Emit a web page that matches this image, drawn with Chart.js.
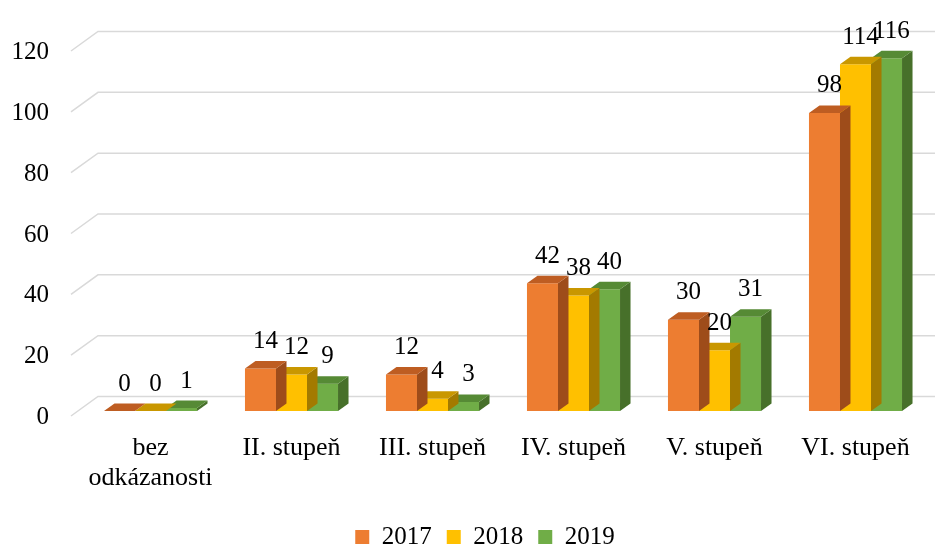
<!DOCTYPE html>
<html>
<head>
<meta charset="utf-8">
<script src="https://cdn.jsdelivr.net/npm/chart.js@4/dist/chart.umd.min.js"></script>
<style>
  html, body { margin: 0; padding: 0; background: #fff; }
  #wrap { width: 935px; height: 546px; }
</style>
</head>
<body>
<div id="wrap"><canvas id="chartStupne"></canvas></div>
<script>
var categories = [["bez", "odkázanosti"], "II. stupeň", "III. stupeň", "IV. stupeň", "V. stupeň", "VI. stupeň"];
var years = ["2017", "2018", "2019"];
var values2017 = [0, 14, 12, 42, 30, 98];
var values2018 = [0, 12, 4, 38, 20, 114];
var values2019 = [1, 9, 3, 40, 31, 116];
var yTicks = [0, 20, 40, 60, 80, 100, 120];

var fronts = ["#ED7D31", "#FFC000", "#70AD47"];
var tops = ["#BE5D22", "#C99700", "#568A35"];
var sides = ["#9E4C1A", "#A37A00", "#47702A"];

var depthX = 10.5, depthY = 7.5;
var serif = "'Liberation Serif', 'Times New Roman', serif";

// faces on top and right side of each bar
var bars3d = {
    id: 'bars3d',
    afterDatasetDraw: function(chart, args){
        var ctx = chart.ctx;
        var i = args.index;
        args.meta.data.forEach(function(bar){
            var l = bar.x - bar.width / 2, r = bar.x + bar.width / 2;
            var t = bar.y, b = bar.base;
            ctx.save();
            ctx.fillStyle = sides[i];
            ctx.beginPath();
            ctx.moveTo(r, t);
            ctx.lineTo(r + depthX, t - depthY);
            ctx.lineTo(r + depthX, b - depthY);
            ctx.lineTo(r, b);
            ctx.closePath();
            ctx.fill();
            ctx.fillStyle = tops[i];
            ctx.beginPath();
            ctx.moveTo(l, t);
            ctx.lineTo(l + depthX, t - depthY);
            ctx.lineTo(r + depthX, t - depthY);
            ctx.lineTo(r, t);
            ctx.closePath();
            ctx.fill();
            ctx.restore();
        });
    }
};

// back wall grid with the little floor diagonal
var grid3d = {
    id: 'grid3d',
    beforeDatasetsDraw: function(chart){
        var ctx = chart.ctx, y = chart.scales.y, left = chart.chartArea.left;
        ctx.save();
        ctx.strokeStyle = "#D9D9D9";
        ctx.lineWidth = 1.5;
        yTicks.forEach(function(v){
            var p = y.getPixelForValue(v);
            ctx.beginPath();
            ctx.moveTo(left - 9, p + 5);
            ctx.lineTo(left + 18, p - 14.5);
            ctx.lineTo(chart.width, p - 14.5);
            ctx.stroke();
        });
        ctx.restore();
    }
};

var valueLabels = {
    id: 'valueLabels',
    afterDatasetsDraw: function(chart){
        var ctx = chart.ctx;
        ctx.save();
        ctx.font = "25px " + serif;
        ctx.fillStyle = "#000";
        ctx.textAlign = "center";
        ctx.textBaseline = "middle";
        chart.data.datasets.forEach(function(ds, i){
            chart.getDatasetMeta(i).data.forEach(function(bar, j){
                ctx.fillText(String(ds.data[j]), bar.x + 5, bar.y - 27);
            });
        });
        ctx.restore();
    }
};

// legend in the original sits a bit right of the middle
var legendShift = {
    id: 'legendShift',
    afterLayout: function(chart){
        chart.legend.left += 20;
        chart.legend.right += 20;
    }
};

var seriesValues = [values2017, values2018, values2019];

var ctx = document.getElementById("chartStupne").getContext("2d");
var myBarChart = new Chart(ctx, {
    type: 'bar',
    data: {
        labels: categories,
        datasets: years.map(function(y, i){
            return {
                label: y,
                data: seriesValues[i],
                backgroundColor: fronts[i],
                borderWidth: 0,
                categoryPercentage: 0.66,
                barPercentage: 1
            };
        })
    },
    options: {
        responsive: true,
        maintainAspectRatio: false,
        animation: false,
        layout: { padding: { left: 4, right: 9, top: 44, bottom: -13.5 } },
        scales: {
            x: {
                grid: { display: false, drawTicks: false },
                border: { display: false },
                ticks: { color: "#000", padding: 22, maxRotation: 0, autoSkip: false,
                         font: { family: serif, size: 26, lineHeight: 30 / 26 } },
                afterFit: function(s){ s.height = 98.5; }
            },
            y: {
                min: 0,
                max: 120,
                grid: { display: false, drawTicks: false },
                border: { display: false },
                ticks: { stepSize: 20, color: "#000", padding: 31, labelOffset: 6.5,
                         font: { family: serif, size: 25 } },
                afterFit: function(s){ s.width = 76; }
            }
        },
        plugins: {
            legend: {
                position: 'bottom',
                labels: { boxWidth: 14, boxHeight: 14, padding: 15, color: "#000",
                          font: { family: serif, size: 25 } }
            },
            tooltip: { enabled: false }
        }
    },
    plugins: [grid3d, bars3d, valueLabels, legendShift]
});
</script>
</body>
</html>
